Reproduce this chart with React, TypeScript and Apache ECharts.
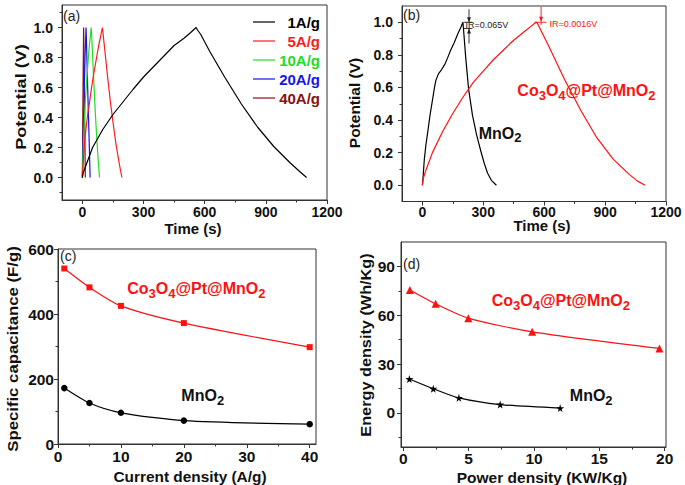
import React, { useEffect, useRef } from "react";
import * as echarts from "echarts";

const FONT = "'Liberation Sans', Arial, Helvetica, sans-serif";

// ---------- Panel (a): GCD curves at different current densities ----------
const rateNames = ["1A/g", "5A/g", "10A/g", "20A/g", "40A/g"];
const rateColors = ["#000000", "#ff1a1a", "#22dd22", "#1414ee", "#8b1010"];
const gcd1 = [
  [0, 0], [4, 0.03], [20, 0.09], [50, 0.2], [100, 0.32], [150, 0.42], [200, 0.505], [250, 0.59],
  [300, 0.67], [350, 0.74], [400, 0.81], [450, 0.88], [500, 0.93], [530, 0.965], [558, 1.0],
  [564, 0.985], [580, 0.955], [625, 0.84], [700, 0.665], [780, 0.49], [860, 0.335], [940, 0.205],
  [1020, 0.097], [1070, 0.035], [1100, 0],
];
const gcd5 = [
  [0, 0], [3, 0.08], [9, 0.2], [18, 0.33], [26, 0.42], [35, 0.5], [44, 0.59], [53, 0.67], [62, 0.74],
  [71, 0.81], [80, 0.88], [88, 0.93], [98, 1.0], [101, 0.965], [110, 0.85], [123, 0.68], [137, 0.51],
  [151, 0.36], [165, 0.22], [180, 0.1], [188, 0.04], [194, 0],
];
const gcd10 = [
  [0, 0], [2, 0.1], [5, 0.22], [9, 0.36], [14, 0.5], [20, 0.63], [26, 0.74], [33, 0.86], [43, 1.0],
  [45, 0.96], [50, 0.82], [56, 0.64], [62, 0.47], [68, 0.32], [74, 0.19], [79, 0.09], [84, 0],
];
const gcd20 = [
  [0, 0], [2, 0.15], [5, 0.35], [9, 0.58], [13, 0.8], [18, 1.0], [19, 0.96], [23, 0.75], [28, 0.5],
  [33, 0.26], [38, 0],
];
const gcd40 = [[0, 0], [1.5, 0.3], [3.5, 0.65], [6, 1.0], [7, 0.94], [9.5, 0.6], [12, 0.3], [14.5, 0]];
const gcdA = [gcd1, gcd5, gcd10, gcd20, gcd40];

// ---------- Panel (b): MnO2 vs Co3O4@Pt@MnO2 at 1 A/g ----------
const mno2GCD = [
  [0, 0], [2, 0.015], [6, 0.09], [10, 0.16], [18, 0.25], [26, 0.32], [38, 0.43], [51, 0.53],
  [60, 0.6], [67, 0.645], [80, 0.685], [95, 0.71], [110, 0.74], [124, 0.78], [140, 0.83],
  [157, 0.875], [175, 0.93], [190, 0.97], [200, 1.0], [204, 0.94], [214, 0.78], [228, 0.59],
  [247, 0.43], [267, 0.31], [288, 0.21], [305, 0.135], [321, 0.075], [340, 0.03], [365, 0],
];
const compGCD = [
  [0, 0], [4, 0.04], [20, 0.1], [50, 0.2], [100, 0.33], [150, 0.44], [200, 0.54], [250, 0.63],
  [300, 0.7], [350, 0.77], [400, 0.83], [450, 0.89], [500, 0.94], [535, 0.975], [560, 1.0],
  [566, 0.995], [580, 0.96], [620, 0.86], [700, 0.65], [780, 0.46], [860, 0.29], [940, 0.16],
  [1020, 0.065], [1060, 0.025], [1097, 0],
];

// ---------- Panel (c): specific capacitance ----------
const currentDensity = [1, 5, 10, 20, 40];
const capComposite = [540, 482, 425, 372, 298];
const capMnO2 = [172, 126, 96, 72, 61];

// ---------- Panel (d): Ragone ----------
const powerComposite = [0.5, 2.47, 4.97, 9.86, 19.6];
const energyComposite = [75.5, 67, 58.2, 49.8, 39.6];
const powerMnO2 = [0.46, 2.29, 4.25, 7.41, 12.0];
const energyMnO2 = [20.8, 14.8, 9.2, 5.1, 2.9];

// ---------- tick values ----------
const timeTicks = [0, 300, 600, 900, 1200];
const timeMinor = [150, 450, 750, 1050];
const potTicks = [0, 0.2, 0.4, 0.6, 0.8, 1.0];
const potMinorA = [-0.1, 0.1, 0.3, 0.5, 0.7, 0.9, 1.1];
const potMinorB = [0.1, 0.3, 0.5, 0.7, 0.9];
const curTicks = [0, 10, 20, 30, 40];
const curMinor = [5, 15, 25, 35];
const capTicks = [0, 200, 400, 600];
const capMinor = [100, 300, 500];
const powTicks = [0, 5, 10, 15, 20];
const powMinor = [2.5, 7.5, 12.5, 17.5];
const enTicks = [0, 30, 60, 90];
const enMinor = [-15, 15, 45, 75];

const RED = "#ff1111";
const AX = "#333";

const STAR = "path://M50,0 L61,35 L98,35 L68,57 L79,91 L50,70 L21,91 L32,57 L2,35 L39,35 Z";

function axes(gi: number, dim: "x" | "y", min: number, max: number, major: number[], minor: number[],
  fmt: (v: number) => string, fontSize: number, margin: number) {
  const position = dim === "x" ? "bottom" : "left";
  return [
    {
      type: "value", gridIndex: gi, position, offset: 0, min, max,
      axisLine: { show: true, onZero: false, lineStyle: { color: AX, width: 1 } },
      axisTick: { show: true, inside: false, length: 4, customValues: major, lineStyle: { color: AX, width: 1 } },
      axisLabel: {
        show: true, customValues: major, formatter: fmt, fontSize, fontWeight: "bold",
        fontFamily: FONT, color: "#111", margin, lineHeight: fontSize,
      },
      splitLine: { show: false }, minorTick: { show: false }, minorSplitLine: { show: false },
    },
    {
      type: "value", gridIndex: gi, position, offset: 0, min, max,
      axisLine: { show: false, onZero: false },
      axisTick: { show: true, inside: false, length: 2.5, customValues: minor, lineStyle: { color: AX, width: 1 } },
      axisLabel: { show: false },
      splitLine: { show: false },
    },
  ];
}

const f1 = (v: number) => v.toFixed(1);
const f0 = (v: number) => String(v);

function buildOption() {
  const grids = [
    { left: 62, top: 5, width: 265, height: 195 },
    { left: 402, top: 6, width: 264, height: 195.5 },
    { left: 58, top: 249, width: 258, height: 195 },
    { left: 401, top: 242, width: 265, height: 205 },
  ].map((g) => ({ ...g, show: true, borderColor: AX, borderWidth: 1, backgroundColor: "transparent" }));

  const xAxis = [
    ...axes(0, "x", -100, 1200, timeTicks, timeMinor, f0, 14, 5),
    ...axes(1, "x", -100, 1200, timeTicks, timeMinor, f0, 14, 3),
    ...axes(2, "x", 0, 41, curTicks, curMinor, f0, 15.5, 5),
    ...axes(3, "x", -0.18, 20.1, powTicks, powMinor, f0, 15.5, 4),
  ];
  const yAxis = [
    ...axes(0, "y", -0.15, 1.15, potTicks, potMinorA, f1, 14, 9),
    ...axes(1, "y", -0.1, 1.1, potTicks, potMinorB, f1, 14, 9),
    ...axes(2, "y", 0, 600, capTicks, capMinor, f0, 15.5, 4),
    ...axes(3, "y", -21, 105, enTicks, enMinor, f0, 15.5, 6),
  ];

  const series: any[] = [];
  gcdA.forEach((d, i) => {
    series.push({
      type: "line", name: rateNames[i], xAxisIndex: 0, yAxisIndex: 0, data: d,
      symbol: "none", showSymbol: false, color: rateColors[i],
      lineStyle: { color: rateColors[i], width: 1.2 }, z: 10 - i,
    });
  });
  series.push({
    type: "line", name: "MnO2", xAxisIndex: 2, yAxisIndex: 2, data: mno2GCD, symbol: "none",
    color: "#000", lineStyle: { color: "#000", width: 1.2 },
  });
  series.push({
    type: "line", name: "Co3O4@Pt@MnO2", xAxisIndex: 2, yAxisIndex: 2, data: compGCD, symbol: "none",
    color: RED, lineStyle: { color: RED, width: 1.2 },
  });
  series.push({
    type: "line", name: "Co3O4@Pt@MnO2 C", xAxisIndex: 4, yAxisIndex: 4,
    data: currentDensity.map((x, i) => [x, capComposite[i]]), symbol: "rect", symbolSize: 6,
    smooth: 0.25, color: RED, itemStyle: { color: RED }, lineStyle: { color: RED, width: 1.2 },
  });
  series.push({
    type: "line", name: "MnO2 C", xAxisIndex: 4, yAxisIndex: 4,
    data: currentDensity.map((x, i) => [x, capMnO2[i]]), symbol: "circle", symbolSize: 6.5,
    smooth: 0.25, color: "#000", itemStyle: { color: "#000" }, lineStyle: { color: "#000", width: 1.2 },
  });
  series.push({
    type: "line", name: "Co3O4@Pt@MnO2 E", xAxisIndex: 6, yAxisIndex: 6,
    data: powerComposite.map((x, i) => [x, energyComposite[i]]), symbol: "triangle", symbolSize: 8,
    smooth: 0.25, color: RED, itemStyle: { color: RED }, lineStyle: { color: RED, width: 1.2 },
  });
  series.push({
    type: "line", name: "MnO2 E", xAxisIndex: 6, yAxisIndex: 6,
    data: powerMnO2.map((x, i) => [x, energyMnO2[i]]), symbol: STAR, symbolSize: 8,
    smooth: 0.25, color: "#000", itemStyle: { color: "#000" }, lineStyle: { color: "#000", width: 1.2 },
  });

  return {
    animation: false,
    backgroundColor: "#ffffff",
    grid: grids,
    xAxis,
    yAxis,
    series,
  };
}

function text(x: number, y: number, str: string, o: any = {}) {
  const fs = o.fontSize || 15;
  return {
    type: "text", x, y, rotation: o.rotation || 0, scaleX: o.scaleX || 1, z: 100,
    style: {
      text: str, fill: o.fill || "#111", fontSize: fs, fontWeight: o.fontWeight || "bold",
      fontFamily: FONT, align: o.align || "center", verticalAlign: "middle", lineHeight: fs,
    },
  };
}

function formula(x: number, y: number, parts: [string, boolean][], color: string) {
  const str = parts.map(([t, sub]) => (sub ? `{s|${t}}` : `{n|${t}}`)).join("");
  return {
    type: "text", x, y, z: 100,
    style: {
      text: str, align: "left", verticalAlign: "middle", fontFamily: FONT,
      rich: {
        n: { fontSize: 16, fontWeight: "bold", fill: color, fontFamily: FONT },
        s: { fontSize: 13, fontWeight: "bold", fill: color, fontFamily: FONT, padding: [9, 0, 0, 0] },
      },
    },
  };
}

const compParts: [string, boolean][] = [["Co", false], ["3", true], ["O", false], ["4", true], ["@Pt@MnO", false], ["2", true]];
const mnParts: [string, boolean][] = [["MnO", false], ["2", true]];

function buildGraphics(chart: any) {
  const px = (g: number, pt: number[]) => chart.convertToPixel({ xAxisIndex: 2 * g, yAxisIndex: 2 * g }, pt) as number[];
  const els: any[] = [];

  // panel tags
  const tag = (x: number, y: number, s: string) => text(x, y, s, { fontWeight: "normal", fontSize: 14, align: "left", fill: "#222" });
  els.push(tag(63, 16, "(a)"), tag(403, 15, "(b)"), tag(60, 256, "(c)"), tag(403, 264, "(d)"));

  // axis names
  els.push(text(21, 97, "Potential (V)", { rotation: Math.PI / 2, fontSize: 15.5, scaleX: 1.17 }));
  els.push(text(354, 103, "Potential (V)", { rotation: Math.PI / 2, fontSize: 15.5 }));
  els.push(text(12, 349, "Specific capacitance (F/g)", { rotation: Math.PI / 2, fontSize: 15.5, scaleX: 1.08 }));
  els.push(text(366, 345, "Energy density (Wh/Kg)", { rotation: Math.PI / 2, fontSize: 15.5, scaleX: 1.05 }));
  els.push(text(193, 228, "Time (s)", { fontSize: 15 }));
  els.push(text(542, 225, "Time (s)", { fontSize: 15 }));
  els.push(text(190, 476, "Current density (A/g)", { fontSize: 15.4 }));
  els.push(text(542, 477, "Power density (KW/Kg)", { fontSize: 15.5 }));

  // legend (a)
  rateNames.forEach((n, i) => {
    const y = 22 + i * 19;
    els.push({ type: "line", z: 100, shape: { x1: 253, y1: y, x2: 275, y2: y }, style: { stroke: rateColors[i], lineWidth: 1.2 } });
    els.push(text(320, y, n, { align: "right", fill: rateColors[i], fontSize: 15 }));
  });

  // compound labels
  const pb1 = px(1, [278, 0.318]);
  els.push(formula(pb1[0], pb1[1], mnParts, "#111"));
  const pb2 = px(1, [468, 0.58]);
  els.push(formula(pb2[0], pb2[1], compParts, RED));
  const pc1 = px(2, [11.0, 477]);
  els.push(formula(pc1[0], pc1[1], compParts, RED));
  const pc2 = px(2, [19.6, 148]);
  els.push(formula(pc2[0], pc2[1], mnParts, "#111"));
  const pd1 = px(3, [6.76, 69]);
  els.push(formula(pd1[0], pd1[1], compParts, RED));
  const pd2 = px(3, [12.74, 10.6]);
  els.push(formula(pd2[0], pd2[1], mnParts, "#111"));

  // IR annotations in (b)
  const line = (a: number[], b: number[], c: string) => ({
    type: "line", z: 100, shape: { x1: a[0], y1: a[1], x2: b[0], y2: b[1] }, style: { stroke: c, lineWidth: 0.9 },
  });
  const arrow = (tip: number[], dir: number, c: string) => ({
    type: "polygon", z: 100,
    shape: { points: [[tip[0], tip[1]], [tip[0] - 2, tip[1] - 5 * dir], [tip[0] + 2, tip[1] - 5 * dir]] },
    style: { fill: c },
  });
  // black: MnO2
  const bTopL = px(1, [202, 1.0]), bTopR = px(1, [247, 1.0]);
  const bBotL = px(1, [202, 0.962]), bBotR = px(1, [247, 0.962]);
  els.push(line(bTopL, bTopR, "#222"), line(bBotL, bBotR, "#222"));
  const vA1 = px(1, [230, 1.08]), vA2 = px(1, [230, 1.0]);
  const vB1 = px(1, [230, 0.87]), vB2 = px(1, [230, 0.962]);
  els.push(line(vA1, vA2, "#222"), arrow(vA2, 1, "#222"));
  els.push(line(vB1, vB2, "#222"), arrow(vB2, -1, "#222"));
  const tIR = px(1, [213, 0.982]);
  els.push(text(tIR[0], tIR[1], "IR=0.065V", { fontWeight: "normal", fontSize: 9, align: "left", fill: "#222" }));
  // red: composite
  const rL = px(1, [553, 1.0]), rR = px(1, [611, 1.0]);
  els.push(line(rL, rR, RED));
  const rv1 = px(1, [585, 1.095]), rv2 = px(1, [585, 1.003]);
  els.push(line(rv1, rv2, RED), arrow(rv2, 1, RED));
  const rv3 = px(1, [585, 0.985]);
  els.push(line(px(1, [585, 1.0]), rv3, RED));
  const tIR2 = px(1, [626, 0.99]);
  els.push(text(tIR2[0], tIR2[1], "IR=0.0016V", { fontWeight: "normal", fontSize: 9, align: "left", fill: RED }));

  return els;
}

export default function App() {
  const ref = useRef<HTMLDivElement>(null);
  useEffect(() => {
    const chart = echarts.init(ref.current!, null, { renderer: "svg" });
    chart.setOption(buildOption());
    chart.setOption({ graphic: buildGraphics(chart) });
    return () => chart.dispose();
  }, []);
  return (
    <div
      ref={ref}
      style={{ position: "fixed", left: 0, top: 0, width: 685, height: 485, background: "#fff" }}
    />
  );
}
